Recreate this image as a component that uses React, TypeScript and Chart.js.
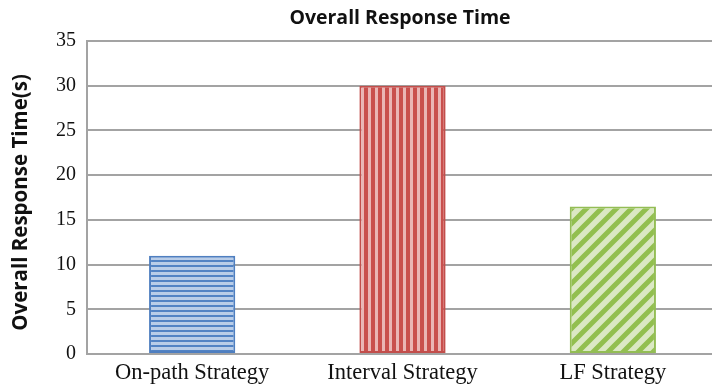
import React, { useEffect, useRef } from "react";
import { Chart, registerables } from "chart.js";

Chart.register(...registerables);

const categories = ["On-path Strategy", "Interval Strategy", "LF Strategy"];
const responseTimes = [11, 30, 16.5];
const chartTitle = "Overall Response Time";
const yAxisTitle = "Overall Response Time(s)";
const yMax = 35;
const yStep = 5;

function makePattern(kind: string): CanvasPattern | string {
  const c = document.createElement("canvas");
  const ctx = c.getContext("2d")!;
  if (kind === "h") {
    c.width = 10;
    c.height = 5;
    ctx.fillStyle = "#b9cde8";
    ctx.fillRect(0, 0, 10, 5);
    ctx.fillStyle = "#5283c4";
    ctx.fillRect(0, 0, 10, 2);
  } else if (kind === "v") {
    c.width = 7;
    c.height = 10;
    ctx.fillStyle = "#eab6b5";
    ctx.fillRect(0, 0, 7, 10);
    ctx.fillStyle = "#c9504d";
    ctx.fillRect(0, 0, 4, 10);
  } else {
    const s = 15;
    c.width = s;
    c.height = s;
    ctx.fillStyle = "#dbe8c4";
    ctx.fillRect(0, 0, s, s);
    ctx.strokeStyle = "#92bf4f";
    ctx.lineWidth = 5;
    ctx.beginPath();
    for (let k = -1; k <= 1; k++) {
      ctx.moveTo(k * s - 3, s + 3);
      ctx.lineTo(k * s + s + 3, -3);
    }
    ctx.stroke();
  }
  return ctx.createPattern(c, "repeat") || "#999";
}

export default function App() {
  const ref = useRef<HTMLCanvasElement>(null);
  useEffect(() => {
    document.body.style.margin = "0";
    const canvas = ref.current!;
    const fills = [makePattern("h"), makePattern("v"), makePattern("d")];
    const textPlugin = {
      id: "texts",
      afterDraw(chart: any) {
        const { ctx, chartArea } = chart;
        ctx.save();
        ctx.fillStyle = "#111";
        ctx.textAlign = "center";
        ctx.textBaseline = "middle";
        ctx.font = "bold 19.5px 'Open Sans'";
        ctx.fillText(chartTitle, 400, 18);
        ctx.font = "bold 20.5px 'Open Sans'";
        ctx.translate(21, (chartArea.top + chartArea.bottom) / 2 + 5);
        ctx.rotate(-Math.PI / 2);
        ctx.fillText(yAxisTitle, 0, 0);
        ctx.restore();
      },
    };
    const chart = new Chart(canvas, {
      type: "bar",
      data: {
        labels: categories,
        datasets: [
          {
            data: responseTimes,
            backgroundColor: fills as any,
            borderColor: ["#4f7fc0", "#c24e4b", "#93bd55"],
            borderWidth: 2,
            borderSkipped: false,
            barPercentage: 0.41,
            categoryPercentage: 1,
          },
        ],
      },
      options: {
        animation: false,
        responsive: false,
        maintainAspectRatio: false,
        layout: { padding: { top: 41, right: 0, left: 0, bottom: 0 } },
        plugins: { legend: { display: false }, title: { display: false }, tooltip: { enabled: false } },
        scales: {
          x: {
            grid: { display: false, drawTicks: false },
            border: { display: false },
            ticks: {
              color: "#111",
              font: { family: "'Liberation Serif'", size: 22.5 },
              padding: 6,
            },
            afterFit(scale: any) {
              scale.height = 36;
            },
          },
          y: {
            min: 0,
            max: yMax,
            ticks: {
              stepSize: yStep,
              color: "#111",
              font: { family: "'Liberation Serif'", size: 20 },
              padding: 11,
            },
            grid: { color: "#a3a3a3", lineWidth: 2, drawTicks: false },
            border: { display: true, color: "#a3a3a3", width: 2 },
            afterFit(scale: any) {
              scale.width = 87;
            },
          },
        },
      },
      plugins: [textPlugin],
    });
    return () => chart.destroy();
  }, []);
  return (
    <div style={{ width: 712, height: 390, overflow: "hidden" }}>
      <canvas ref={ref} width={718} height={390} style={{ display: "block" }} />
    </div>
  );
}
